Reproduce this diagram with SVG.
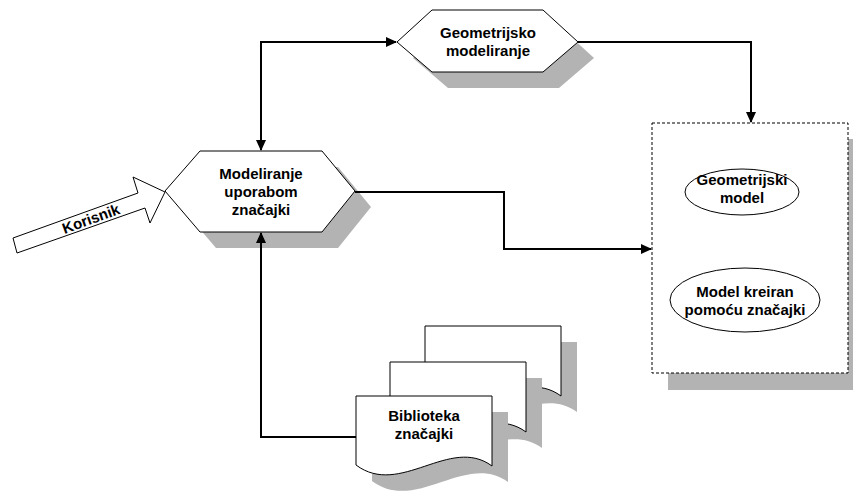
<svg xmlns="http://www.w3.org/2000/svg" xmlns:xlink="http://www.w3.org/1999/xlink" width="853" height="492" viewBox="0 0 853 492">
<style>
.shape{fill:#fff;stroke:#000;stroke-width:1}
.shadow{fill:#b3b3b3;stroke:none}
.lbl{font-family:"Liberation Sans",Arial,sans-serif;font-weight:bold;font-size:15px;fill:#000;text-anchor:middle}
.conn{fill:none;stroke:#000;stroke-width:2}
</style>
<defs>
<marker id="arr" markerUnits="userSpaceOnUse" markerWidth="11" markerHeight="10" refX="10" refY="5" orient="auto-start-reverse" viewBox="0 0 11 10">
<path d="M0,0 L11,5 L0,10 Z" fill="#000"/>
</marker>
<path id="doc" d="M0,0 H136 V70 C94,39 44,102 0,69 Z"/>
</defs>
<rect width="853" height="492" fill="#fff"/>

<g id="geometrijsko-modeliranje">
<polygon class="shadow" points="413,58 448,26 559,26 594,58 559,88 448,88"/>
<polygon class="shape" points="397,42 432,10 543,10 578,42 543,72 432,72"/>
<text class="lbl" x="488" y="38">Geometrijsko</text>
<text class="lbl" x="488" y="56">modeliranje</text>
</g>

<g id="modeliranje-znacajki">
<polygon class="shadow" points="181,207 216,167 338,167 371,207 338,248 216,248"/>
<polygon class="shape" points="165,191 200,151 322,151 355,191 322,232 200,232"/>
<text class="lbl" x="261" y="179">Modeliranje</text>
<text class="lbl" x="261" y="197">uporabom</text>
<text class="lbl" x="261" y="215">značajki</text>
</g>

<g id="korisnik">
<polygon class="shape" points="13,238 138,193 133,177 165,192 150,223 145,208 17,253"/>
<text class="lbl" transform="translate(91,219) rotate(-20)" x="0" y="5">Korisnik</text>
</g>

<g id="model-box">
<rect class="shadow" x="668" y="139" width="196" height="251"/>
<rect x="652" y="123" width="196" height="250" fill="#fff" stroke="#000" stroke-width="1" stroke-dasharray="3,2"/>
</g>

<g id="geometrijski-model">
<ellipse class="shape" cx="742" cy="192" rx="57" ry="23"/>
<text class="lbl" x="742" y="185">Geometrijski</text>
<text class="lbl" x="742" y="203">model</text>
</g>

<g id="model-znacajke">
<ellipse class="shape" cx="745" cy="300" rx="75" ry="32"/>
<text class="lbl" x="745" y="297">Model kreiran</text>
<text class="lbl" x="745" y="315">pomoću značajki</text>
</g>

<g id="biblioteka-znacajki">
<use href="#doc" class="shadow" transform="translate(441,342)"/>
<use href="#doc" class="shape" transform="translate(425,326)"/>
<use href="#doc" class="shadow" transform="translate(406,378)"/>
<use href="#doc" class="shape" transform="translate(390,362)"/>
<use href="#doc" class="shadow" transform="translate(372,412)"/>
<use href="#doc" class="shape" transform="translate(356,396)"/>
<text class="lbl" x="424" y="421">Biblioteka</text>
<text class="lbl" x="424" y="439">značajki</text>
</g>

<g id="connectors">
<path class="conn" d="M261,150 V42 H396" marker-start="url(#arr)" marker-end="url(#arr)"/>
<path class="conn" d="M578,42 H751 V122" marker-end="url(#arr)"/>
<path class="conn" d="M355,192 H504 V249 H651" marker-end="url(#arr)"/>
<path class="conn" d="M356,437 H261 V233" marker-end="url(#arr)"/>
</g>
</svg>
